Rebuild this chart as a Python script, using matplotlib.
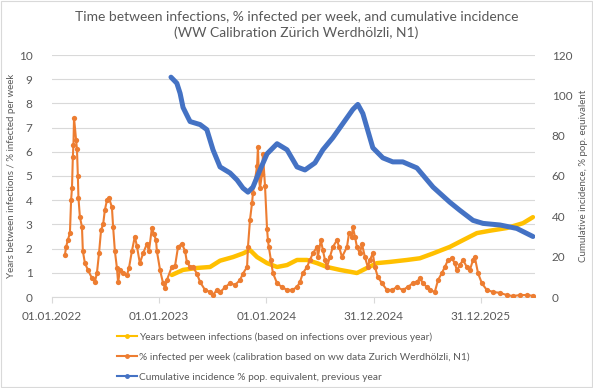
import matplotlib.pyplot as plt
from matplotlib.lines import Line2D
from matplotlib.patches import Rectangle
import pandas as pd

plt.rcParams['font.family'] = ['Lato', 'DejaVu Sans']

start = pd.Timestamp('2022-01-01')

# % infected per week: days since 01.01.2022 and value
inf_days = [44, 48, 54, 61, 65, 68, 71, 73, 75, 82, 85, 88, 90, 95, 102, 105, 112, 123, 136, 146,
            153, 160, 167, 174, 180, 187, 194, 204, 208, 214, 221, 225, 231, 242, 255, 262, 272, 282, 289, 299,
            310, 323, 330, 340, 347, 354, 357, 368, 378, 385, 391, 408, 419, 429, 442, 453, 459, 470, 480, 493,
            504, 521, 538, 548, 561, 572, 589, 606, 623, 640, 650, 664, 667, 674, 681, 684, 698, 701, 704, 708,
            715, 718, 725, 732, 735, 738, 745, 752, 766, 783, 800, 817, 834, 844, 854, 868, 878, 888, 902, 905,
            915, 922, 929, 936, 946, 956, 970, 977, 987, 1004, 1011, 1021, 1024, 1031, 1038, 1048, 1055, 1065, 1075, 1082,
            1092, 1099, 1109, 1123, 1140, 1157, 1174, 1194, 1211, 1228, 1242, 1252, 1263, 1276, 1286, 1303, 1314, 1327, 1337, 1348,
            1361, 1371, 1378, 1388, 1399, 1412, 1422, 1433, 1439, 1450, 1463, 1480, 1501, 1525, 1548, 1569, 1593, 1616, 1637]
inf_vals = [1.74, 2.07, 2.36, 2.64, 4.0, 4.5, 5.8, 6.3, 7.4, 6.5, 6.1, 5.0, 4.1, 3.3, 2.9, 1.9, 1.4, 1.1, 0.78, 0.62,
            1.0, 1.8, 2.77, 3.0, 3.6, 4.0, 4.1, 3.7, 2.9, 1.9, 1.2, 0.6, 1.1, 1.0, 0.9, 1.2, 1.9, 2.5, 2.1, 1.4,
            1.8, 2.2, 1.9, 2.85, 2.6, 2.35, 1.9, 1.1, 0.57, 0.37, 0.7, 1.25, 1.3, 2.07, 2.2, 1.9, 1.45, 1.24, 1.24, 0.97,
            0.62, 0.29, 0.21, 0.08, 0.29, 0.2, 0.4, 0.57, 0.5, 0.7, 0.97, 1.24, 2.07, 3.2, 3.9, 4.3, 5.4, 6.2, 5.0, 4.5,
            5.1, 5.9, 4.6, 2.8, 2.35, 2.07, 1.53, 0.99, 0.57, 0.41, 0.29, 0.29, 0.41, 0.62, 0.99, 1.24, 1.53, 1.8, 2.07, 1.65,
            2.35, 1.94, 1.53, 1.24, 1.65, 2.07, 2.35, 2.07, 1.65, 2.07, 2.64, 2.5, 2.9, 2.5, 2.07, 1.8, 2.2, 1.65, 1.24, 1.53,
            1.8, 1.24, 0.83, 0.57, 0.29, 0.29, 0.41, 0.29, 0.41, 0.57, 0.62, 0.78, 0.57, 0.41, 0.29, 0.21, 0.7, 0.99, 1.24, 1.53,
            1.6, 1.4, 1.1, 1.32, 1.53, 1.24, 1.1, 1.53, 1.65, 0.99, 0.57, 0.29, 0.21, 0.17, 0.08, 0.04, 0.08, 0.08, 0.05]

# Years between infections
yrs_days = [408, 446, 493, 538, 572, 616, 650, 674, 698, 732, 766, 800, 834, 868, 902, 936,
            980, 1038, 1072, 1106, 1150, 1208, 1252, 1297, 1354, 1399, 1446, 1491, 1548, 1603, 1637]
yrs_vals = [0.91, 1.12, 1.2, 1.24, 1.5, 1.65, 1.8, 1.94, 1.65, 1.4, 1.24, 1.32, 1.53, 1.53, 1.4, 1.24,
            1.12, 0.99, 1.2, 1.4, 1.45, 1.53, 1.6, 1.8, 2.07, 2.35, 2.64, 2.74, 2.85, 3.05, 3.3]

# Cumulative incidence % pop. equivalent (right axis)
cum_days = [405, 425, 436, 446, 463, 470, 504, 527, 548, 572, 606, 630, 650, 667, 684, 708, 732, 766, 800, 834,
            861, 895, 922, 956, 990, 1024, 1041, 1058, 1092, 1126, 1160, 1194, 1242, 1297, 1354, 1388, 1433, 1467, 1525, 1582, 1637]
cum_vals = [109, 106, 101, 94, 89, 87, 85.5, 83, 73, 64.5, 61.5, 58, 54, 52, 54.5, 63, 71, 76, 73, 64.5,
            63, 66.5, 73, 79, 86, 93, 95.5, 91, 74, 69, 67, 67, 64, 54.5, 47, 43, 38, 36.5, 35.7, 34, 30]

tick_days = [0, 365, 730, 1095, 1460]
x_end_day = 1644

title = 'Time between infections, % infected per week, and cumulative incidence\n(WW Calibration Zürich Werdhölzli, N1)'
labels = ['Years between infections (based on infections over previous year)',
          '% infected per week (calibration based on ww data Zurich Werdhölzli, N1)',
          'Cumulative incidence % pop. equivalent, previous year']

c_yel = '#FFC000'
c_ora = '#ED7D31'
c_blu = '#4472C4'
c_txt = '#595959'
c_grid = '#D9D9D9'


def dates(d):
    return start + pd.to_timedelta(d, unit='D')


fig = plt.figure(figsize=(5.93, 3.88), dpi=100)
fig.patches.append(Rectangle((0.002, 0.002), 0.996, 0.996, transform=fig.transFigure,
                             fill=False, edgecolor=c_grid, lw=0.8))
ax = fig.add_axes([52 / 593, 1 - 297 / 388, 483 / 593, 242 / 388])
ax2 = ax.twinx()

ax.plot(dates(yrs_days), yrs_vals, color=c_yel, lw=3.2, solid_joinstyle='round', solid_capstyle='round', zorder=2)
ax.plot(dates(inf_days), inf_vals, color=c_ora, lw=1.5, marker='o', ms=3.8, mew=0, zorder=3)
ax2.plot(dates(cum_days), cum_vals, color=c_blu, lw=3.6, solid_joinstyle='round', solid_capstyle='round')

ax.set_ylim(0, 10)
ax.set_yticks(range(0, 11))
ax2.set_ylim(0, 120)
ax2.set_yticks(range(0, 121, 20))
ax.set_xlim(start, dates(x_end_day))
ticks = dates(tick_days)
ax.set_xticks(ticks)
ax.set_xticklabels([t.strftime('%d.%m.%Y') for t in ticks])

ax.grid(axis='y', color=c_grid, lw=0.8)
ax.set_axisbelow(True)
for a in (ax, ax2):
    for s in ('top', 'left', 'right', 'bottom'):
        a.spines[s].set_visible(False)
ax.spines['bottom'].set_visible(True)
ax.spines['bottom'].set_color(c_grid)
ax.tick_params(axis='x', colors=c_txt, labelsize=8.5, length=4, color=c_grid, pad=6)
ax.tick_params(axis='y', colors=c_txt, labelsize=8.5, length=0, pad=14)
ax2.tick_params(axis='y', colors=c_txt, labelsize=8.5, length=0, pad=12)

ax.set_ylabel('Years between infections / % infected per week', color=c_txt, fontsize=7.0, labelpad=2)
ax2.set_ylabel('Cumulative incidence, % pop. equivalent', color=c_txt, fontsize=7.0, labelpad=5)
fig.suptitle(title, color=c_txt, fontsize=10, y=0.972, linespacing=1.35)

handles = [Line2D([], [], color=c_yel, lw=1.5, marker='o', ms=2.5),
           Line2D([], [], color=c_ora, lw=1.5, marker='o', ms=2.5),
           Line2D([], [], color=c_blu, lw=1.5, marker='o', ms=2.5)]
leg = fig.legend(handles, labels, loc='upper center', bbox_to_anchor=(0.495, 1 - 323 / 388), ncol=1,
                 frameon=False, fontsize=7.3, handlelength=2.0, handletextpad=0.2, labelspacing=1.05,
                 labelcolor=c_txt)

fig.savefig('out.png', dpi=100)
